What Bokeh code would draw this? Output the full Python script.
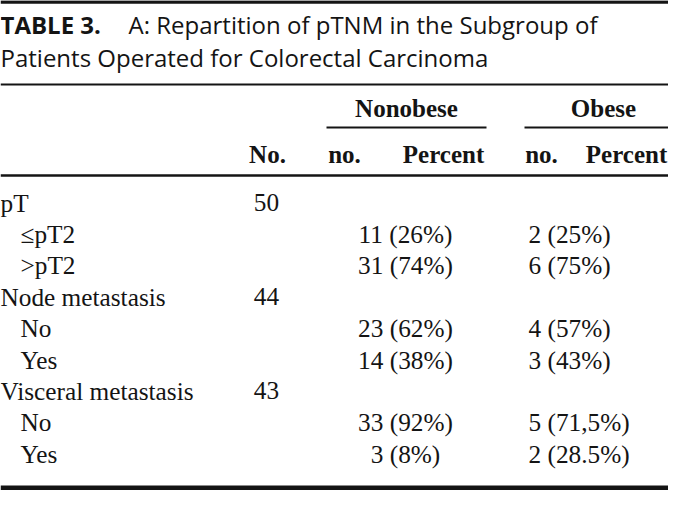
from bokeh.plotting import figure
from bokeh.models import Range1d
from bokeh.core.properties import value
from bokeh.embed import file_html
from bokeh.resources import INLINE

# ---- data ----
title_bold = "TABLE 3."
title_rest = "A: Repartition of pTNM in the Subgroup of"
title_line2 = "Patients Operated for Colorectal Carcinoma"
groups = ["Nonobese", "Obese"]
sub_headers = ["No.", "no.", "Percent", "no.", "Percent"]
row_labels = ["pT", "\u2264pT2", ">pT2", "Node metastasis", "No", "Yes",
              "Visceral metastasis", "No", "Yes"]
row_indent = [0, 1, 1, 0, 1, 1, 0, 1, 1]
totals = ["50", "", "", "44", "", "", "43", "", ""]
nonobese_n = [None, 11, 31, None, 23, 14, None, 33, 3]
nonobese_pct = [None, "26%", "74%", None, "62%", "38%", None, "92%", "8%"]
obese_n = [None, 2, 6, None, 4, 3, None, 5, 2]
obese_pct = [None, "25%", "75%", None, "57%", "43%", None, "71,5%", "28.5%"]

# ---- layout (pixel space of the figure) ----
W, H = 668, 490
p = figure(width=W, height=H, output_backend="svg", toolbar_location=None,
           x_range=Range1d(0, W), y_range=Range1d(H, 0), min_border=0)
p.axis.visible = False
p.grid.visible = False
p.outline_line_color = None
p.background_fill_color = "white"
p.border_fill_color = "white"

ink = "#141414"
body_font = value("Liberation Serif")
title_font = value("Open Sans")
body_fs = "25.3px"
head_fs = "25px"
title_fs = "24px"

# rules
p.segment(x0=[0], y0=[1.5], x1=[W], y1=[1.5], line_color=ink, line_width=3.5)
p.segment(x0=[0], y0=[84], x1=[W], y1=[84], line_color=ink, line_width=2)
p.segment(x0=[0], y0=[175], x1=[W], y1=[175], line_color=ink, line_width=2.5)
p.segment(x0=[0], y0=[487.5], x1=[W], y1=[487.5], line_color=ink, line_width=5)
# group underlines
p.segment(x0=[326, 524], y0=[127, 127], x1=[486, W], y1=[127, 127],
          line_color=ink, line_width=2)

# title
p.text(x=[0], y=[24], text=[title_bold], text_font=title_font,
       text_font_size=title_fs, text_font_style="bold", text_color=ink,
       text_baseline="middle", text_align="left")
p.text(x=[128], y=[24], text=[title_rest], text_font=title_font,
       text_font_size=title_fs, text_color=ink,
       text_baseline="middle", text_align="left")
p.text(x=[0], y=[57], text=[title_line2], text_font=title_font,
       text_font_size=title_fs, text_color=ink,
       text_baseline="middle", text_align="left")

# group headers
p.text(x=[406, 603], y=[108, 108], text=groups, text_font=body_font,
       text_font_size=head_fs, text_font_style="bold", text_color=ink,
       text_baseline="middle", text_align="center")
p.text(x=[267, 344, 443, 541, 626], y=[154] * 5, text=sub_headers,
       text_font=body_font, text_font_size=head_fs, text_font_style="bold",
       text_color=ink, text_baseline="middle", text_align="center")

# body rows
y0, dy = 202, 31.4
ys = [y0 + i * dy for i in range(len(row_labels))]
lab_x = [0 + 20 * ind for ind in row_indent]
p.text(x=lab_x, y=ys, text=row_labels, text_font=body_font,
       text_font_size=body_fs, text_color=ink, text_baseline="middle",
       text_align="left")

tot_y = [y for y, t in zip(ys, totals) if t]
tot_t = [t for t in totals if t]
p.text(x=[266] * len(tot_t), y=tot_y, text=tot_t, text_font=body_font,
       text_font_size=body_fs, text_color=ink, text_baseline="middle",
       text_align="center")

nn_y = [y for y, n in zip(ys, nonobese_n) if n is not None]
nn_t = [f"{n} ({pc})" for n, pc in zip(nonobese_n, nonobese_pct) if n is not None]
p.text(x=[405] * len(nn_t), y=nn_y, text=nn_t, text_font=body_font,
       text_font_size=body_fs, text_color=ink, text_baseline="middle",
       text_align="center")

ob_y = [y for y, n in zip(ys, obese_n) if n is not None]
ob_t = [f"{n} ({pc})" for n, pc in zip(obese_n, obese_pct) if n is not None]
p.text(x=[528] * len(ob_t), y=ob_y, text=ob_t, text_font=body_font,
       text_font_size=body_fs, text_color=ink, text_baseline="middle",
       text_align="left")

open("out.html", "w").write(file_html(p, INLINE))
